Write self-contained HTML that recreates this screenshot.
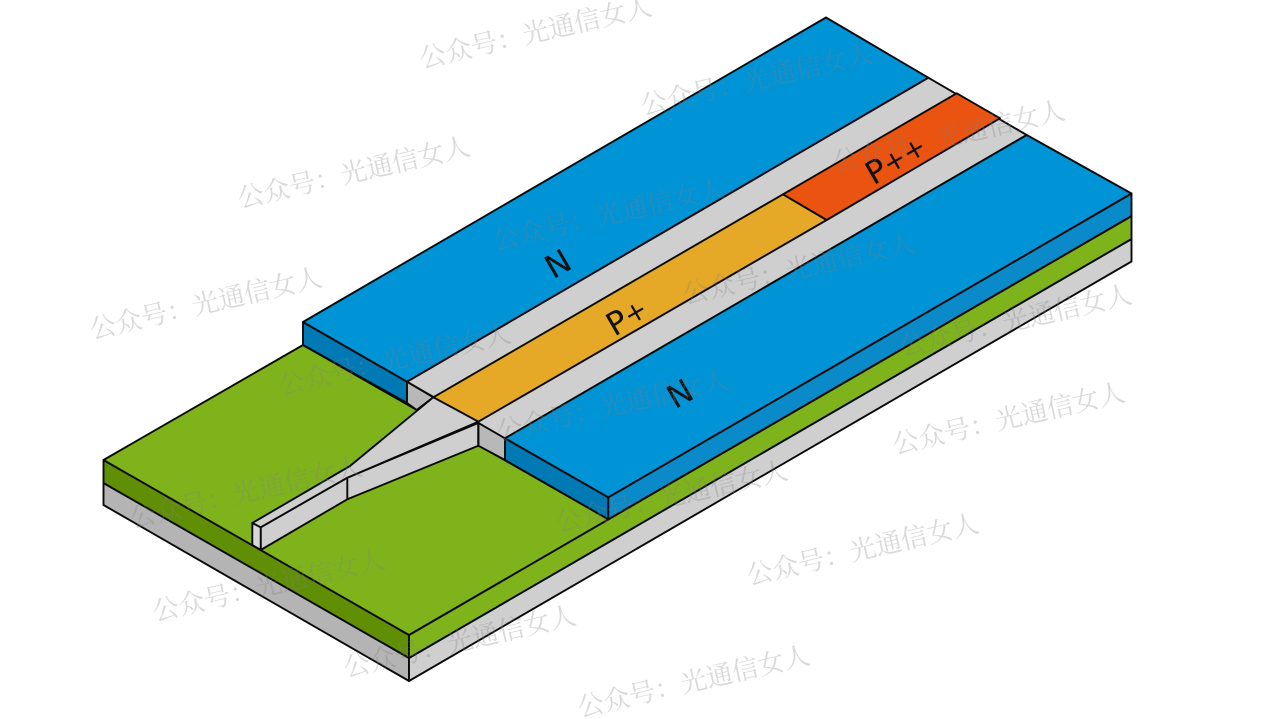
<!DOCTYPE html>
<html><head><meta charset="utf-8"><style>
html,body{margin:0;padding:0;background:#fff;width:1280px;height:719px;overflow:hidden}
svg{display:block}
.l{font-family:"DejaVu Sans","Liberation Sans",sans-serif;font-size:32px;fill:#111}
.s{font-size:27px}
.w{font-family:"Noto Serif CJK SC","Liberation Serif",serif;font-size:26.4px;fill:#808080;fill-opacity:.3}
</style></head><body>
<svg width="1280" height="719" viewBox="0 0 1280 719" xmlns="http://www.w3.org/2000/svg">
<g stroke="#0a0a0a" stroke-width="1.9" stroke-linejoin="round">
<!-- substrate -->
<polygon points="103.5,483 409,658 409,681 103.5,505" fill="#b4b4b4"/>
<polygon points="409,658 1131.5,239 1131.5,261.5 409,681" fill="#d0cfd0"/>
<polygon points="103.5,460 409,635 409,658 103.5,483" fill="#608f06"/>
<polygon points="409,635 1131.5,216 1131.5,239 409,658" fill="#7fb31c"/>
<polygon points="103.5,460 303,345 608.3,519.3 1131.5,216 409,635" fill="#7fb31c"/>
<!-- blue slabs side faces -->
<polygon points="303,322 407,381.7 407,403 303,345" fill="#0079b4"/>
<polygon points="505,438.3 608.3,497.3 608.3,519.3 505,460" fill="#0079b4"/>
<polygon points="608.3,497.3 1131.5,193.5 1131.5,216 608.3,519.3" fill="#0a8ac9"/>
<!-- gray end faces -->
<polygon points="407,381.7 433.3,397.3 416.7,410 407,403" fill="#b9b8b9"/>
<polygon points="478.3,421.7 505,438.3 505,460 478.3,445.7" fill="#b9b8b9"/>
<!-- ridge top -->
<polygon points="407,381.7 928.3,77.7 1026.7,135 505,438.3" fill="#d0cfd0"/>
<!-- blue tops -->
<polygon points="303,322 826,17.5 928.3,77.7 407,381.7" fill="#0093d6"/>
<polygon points="505,438.3 1026.7,135 1131.5,193.5 608.3,497.3" fill="#0093d6"/>
<!-- doped strips -->
<polygon points="433.3,397.3 783,194.3 826.7,220 478.3,421.7" fill="#e5a827"/>
<polygon points="783,194.3 956.7,93.3 1000,118.3 826.7,220" fill="#ea5410"/>
<!-- taper -->
<polygon points="260.7,527.3 347.3,477.7 478.3,423 478.3,445.7 347.3,499.3 260.7,550" fill="#d0cfd0"/>
<polygon points="252.3,523 260.7,527.3 260.7,550 252.3,545" fill="#d8d8d8"/>
<polygon points="252.3,523 350,466 433.3,397.3 478.3,421.7 347.3,477.7 260.7,527.3" fill="#d0cfd0"/>
<line x1="347.3" y1="477.7" x2="347.3" y2="499.3"/>
<line x1="478.3" y1="421.7" x2="478.3" y2="445.7"/>
</g>
<g>
<text class="l" transform="translate(558,264) rotate(-30)" text-anchor="middle" dominant-baseline="central">N</text>
<text class="l" transform="translate(627,317) rotate(-30)" text-anchor="middle" dominant-baseline="central">P<tspan class="s">+</tspan></text>
<text class="l" transform="translate(680,394) rotate(-30)" text-anchor="middle" dominant-baseline="central">N</text>
<text class="l" transform="translate(896,160) rotate(-30)" text-anchor="middle" dominant-baseline="central">P<tspan class="s">++</tspan></text>
</g>
<g>
<text class="w" transform="translate(422,68) rotate(-13)">公众号：光通信女人</text>
<text class="w" transform="translate(643,115) rotate(-13)">公众号：光通信女人</text>
<text class="w" transform="translate(240,208) rotate(-13)">公众号：光通信女人</text>
<text class="w" transform="translate(495,250) rotate(-13)">公众号：光通信女人</text>
<text class="w" transform="translate(835,172) rotate(-13)">公众号：光通信女人</text>
<text class="w" transform="translate(92,339) rotate(-13)">公众号：光通信女人</text>
<text class="w" transform="translate(281,395) rotate(-13)">公众号：光通信女人</text>
<text class="w" transform="translate(685,304) rotate(-13)">公众号：光通信女人</text>
<text class="w" transform="translate(902,356) rotate(-13)">公众号：光通信女人</text>
<text class="w" transform="translate(499,441) rotate(-13)">公众号：光通信女人</text>
<text class="w" transform="translate(895,454) rotate(-13)">公众号：光通信女人</text>
<text class="w" transform="translate(132,528) rotate(-13)">公众号：光通信女人</text>
<text class="w" transform="translate(558,532) rotate(-13)">公众号：光通信女人</text>
<text class="w" transform="translate(749,585) rotate(-13)">公众号：光通信女人</text>
<text class="w" transform="translate(155,621) rotate(-13)">公众号：光通信女人</text>
<text class="w" transform="translate(346,677) rotate(-13)">公众号：光通信女人</text>
<text class="w" transform="translate(580,717) rotate(-13)">公众号：光通信女人</text>
</g>
</svg>
</body></html>
